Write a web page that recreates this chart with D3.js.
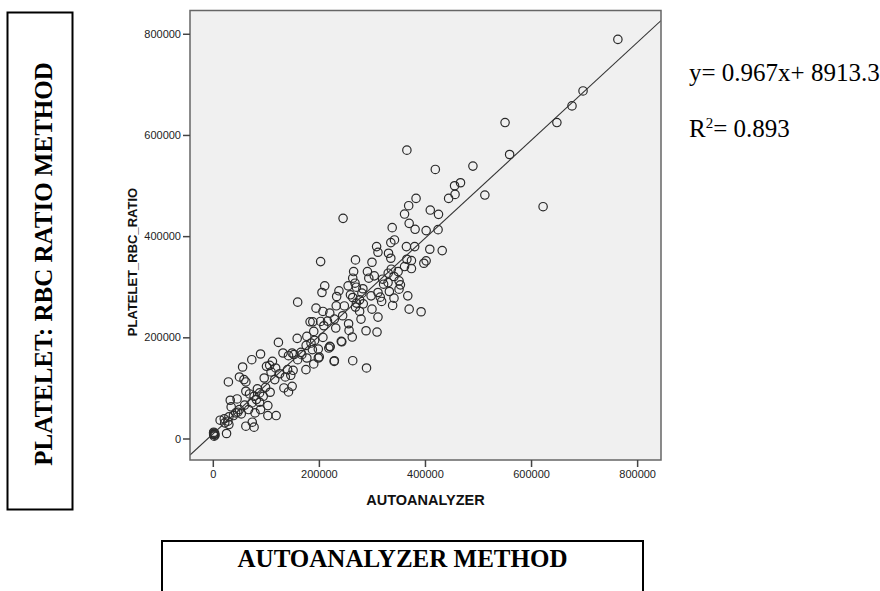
<!DOCTYPE html>
<html>
<head>
<meta charset="utf-8">
<script src="https://cdn.jsdelivr.net/npm/d3@7"></script>
<style>
  body { margin: 0; background: #fff; }
  svg { display: block; }
</style>
</head>
<body>
<svg id="chart" width="880" height="591"></svg>
<script>
// autoanalyzer count (x) and platelet:rbc ratio count (y)
var autoAnalyzer = [
  763700, 698000, 677200, 648700, 551000, 559600, 622700, 512900, 490400, 419500,
  365900, 467000, 455800, 456700, 444600, 383200, 369300, 361500, 410000, 425500,
  245600, 370200, 338200, 381400, 402200, 424700, 342500, 335600, 308800, 365000,
  380600, 409100, 432500, 311400, 331300, 335600, 269000, 203300, 300100, 365900,
  374500, 402200, 397900, 361500, 374500, 336500, 349400, 265500, 291500, 330700,
  304400, 320000, 341600, 351100, 330400, 353700, 351100, 294100, 263800, 268100,
  255100, 211000, 270700, 237800, 205800, 281100, 311400, 332900, 259500, 298400,
  315700, 367600, 233500, 263800, 276800, 318300, 341600, 270700, 283700, 160000,
  339000, 232700, 269000, 194600, 300100, 370200, 392700, 207600, 276800, 220500,
  244800, 279400, 311400, 229200, 203300, 183400, 188500, 216200, 256000, 209300,
  231800, 256900, 288900, 309600, 190300, 177300, 207600, 262900, 159100, 192000,
  242200, 185100, 123700, 220500, 218700, 198900, 187700, 166100, 132300, 149600,
  167800, 142700, 200700, 198900, 177300, 90000, 73500, 112400, 160000, 229200,
  263800, 190300, 175600, 289800, 107200, 101200, 56200, 118500, 141000, 151400,
  109800, 147000, 136700, 50200, 96900, 58800, 62300, 116800, 29400, 134100,
  149600, 99500, 142700, 108100, 62300, 88200, 69200, 77800, 95100, 45800,
  32900, 82200, 73500, 88200, 103800, 34600, 67500, 90000, 79600, 50200,
  43200, 53600, 38900, 103800, 119400, 30300, 21600, 13800, 28500, 22500,
  30300, 74400, 62300, 77800, 25900, 1700, 1700, 2600, 3500, 2000,
  4200, 1500, 3000, 228800, 221300, 243200, 126000, 84000, 47000, 60000,
  283000, 322000, 248000, 176000, 153000
];
var plateletRatio = [
  788900, 687000, 657400, 624500, 624500, 561400, 458200, 481200, 538400, 531800,
  570000, 505500, 499600, 482500, 474600, 474600, 460200, 443700, 451600, 443100,
  435200, 425300, 416800, 413500, 410900, 412800, 392500, 387200, 379300, 379300,
  379300, 374100, 371400, 368100, 366200, 356300, 353000, 349700, 348400, 354300,
  351700, 351100, 346400, 339900, 335900, 334600, 330000, 330000, 330000, 326700,
  321500, 314900, 320200, 311600, 308300, 303700, 295200, 316900, 316900, 307000,
  301700, 301700, 299100, 291900, 288600, 287300, 288600, 290600, 284000, 282000,
  279400, 282000, 280700, 278700, 274100, 270900, 277400, 267600, 266200, 269500,
  263000, 262300, 259700, 257700, 255700, 255700, 250500, 251100, 251100, 247800,
  242600, 236000, 240000, 236000, 231400, 230700, 230700, 232100, 226800, 222900,
  218300, 213700, 213000, 210400, 211700, 201800, 199800, 200500, 197900, 193900,
  192000, 188700, 190000, 182100, 178800, 176800, 175500, 170300, 169000, 169000,
  165700, 163700, 161100, 159100, 159100, 167000, 155800, 152500, 155800, 153800,
  153800, 147300, 136100, 139400, 144600, 142700, 141300, 139400, 136100, 134800,
  131500, 124900, 121600, 121600, 119600, 116400, 111800, 116400, 111800, 99900,
  103200, 101200, 92000, 91400, 93400, 90100, 88100, 83500, 83500, 78200,
  75600, 76900, 70300, 71700, 65100, 62500, 57200, 57200, 50600, 57200,
  50600, 48600, 45400, 45400, 45400, 42700, 38800, 36200, 34200, 30900,
  27600, 32200, 24300, 22400, 9900, 12500, 7900, 4600, 10500, 9000,
  6500, 11000, 8000, 152400, 181300, 191100, 128000, 98000, 52000, 66000,
  296000, 305000, 262000, 184000, 166000
];
var xTicks = [0, 200000, 400000, 600000, 800000];
var yTicks = [0, 200000, 400000, 600000, 800000];
var slope = 0.967, intercept = 8913.3;

var svg = d3.select("#chart");

// plot frame
var plotL = 190, plotR = 661, plotT = 10.5, plotB = 460;
var x = d3.scaleLinear().domain([-43000, 845000]).range([plotL, plotR]);
var y = d3.scaleLinear().domain([-42500, 846000]).range([plotB, plotT]);

svg.append("defs").append("clipPath").attr("id", "plotclip")
  .append("rect")
  .attr("x", plotL).attr("y", plotT)
  .attr("width", plotR - plotL).attr("height", plotB - plotT);

svg.append("rect")
  .attr("x", plotL).attr("y", plotT)
  .attr("width", plotR - plotL).attr("height", plotB - plotT)
  .attr("fill", "#f0f0f0");

// points
svg.append("g").attr("clip-path", "url(#plotclip)")
  .selectAll("circle")
  .data(autoAnalyzer.map(function(d, i) { return [d, plateletRatio[i]]; }))
  .enter().append("circle")
  .attr("cx", function(d) { return x(d[0]); })
  .attr("cy", function(d) { return y(d[1]); })
  .attr("r", 4.2)
  .attr("fill", "none")
  .attr("stroke", "#2a2a2a")
  .attr("stroke-width", 1.2);

// fit line
var xd = x.domain();
svg.append("line")
  .attr("clip-path", "url(#plotclip)")
  .attr("x1", x(xd[0])).attr("y1", y(slope * xd[0] + intercept))
  .attr("x2", x(xd[1])).attr("y2", y(slope * xd[1] + intercept))
  .attr("stroke", "#333").attr("stroke-width", 1.1);

svg.append("rect")
  .attr("x", plotL).attr("y", plotT)
  .attr("width", plotR - plotL).attr("height", plotB - plotT)
  .attr("fill", "none").attr("stroke", "#666").attr("stroke-width", 1.5);

// axes
var fmt = d3.format("d");
var xAxis = svg.append("g").attr("transform", "translate(0," + plotB + ")")
  .call(d3.axisBottom(x).tickValues(xTicks).tickFormat(fmt).tickSize(7).tickPadding(3));
var yAxis = svg.append("g").attr("transform", "translate(" + plotL + ",0)")
  .call(d3.axisLeft(y).tickValues(yTicks).tickFormat(fmt).tickSize(7).tickPadding(2));
[xAxis, yAxis].forEach(function(g) {
  g.select(".domain").remove();
  g.selectAll(".tick line").attr("stroke", "#444").attr("stroke-width", 1.5);
  g.selectAll(".tick text").attr("fill", "#222")
    .style("font-family", "'Liberation Sans', Arial, sans-serif").style("font-size", "11px");
});

svg.append("text")
  .attr("x", (plotL + plotR) / 2).attr("y", 505)
  .attr("text-anchor", "middle")
  .style("font-family", "'Liberation Sans', Arial, sans-serif")
  .style("font-size", "14.5px").style("font-weight", "bold").attr("fill", "#111")
  .text("AUTOANALYZER");

svg.append("text")
  .attr("transform", "translate(137,262) rotate(-90)")
  .attr("text-anchor", "middle")
  .style("font-family", "'Liberation Sans', Arial, sans-serif")
  .style("font-size", "13px").style("font-weight", "bold").attr("fill", "#111")
  .text("PLATELET_RBC_RATIO");

// equation
var serif = "'Liberation Serif', 'Times New Roman', serif";
svg.append("text").attr("x", 689).attr("y", 81)
  .style("font-family", serif).style("font-size", "25px").attr("fill", "#000")
  .text("y= 0.967x+ 8913.3");
var r2 = svg.append("text").attr("x", 689).attr("y", 137)
  .style("font-family", serif).style("font-size", "25px").attr("fill", "#000");
r2.append("tspan").text("R");
r2.append("tspan").attr("dy", -9).style("font-size", "15px").text("2");
r2.append("tspan").attr("dy", 9).text("= 0.893");

// boxed method titles
svg.append("rect").attr("x", 7.5).attr("y", 12.5).attr("width", 65).attr("height", 497)
  .attr("fill", "none").attr("stroke", "#000").attr("stroke-width", 2);
svg.append("text")
  .attr("transform", "translate(52,264) rotate(-90)")
  .attr("text-anchor", "middle")
  .style("font-family", serif).style("font-size", "25px").style("font-weight", "bold")
  .text("PLATELET: RBC RATIO METHOD");

svg.append("rect").attr("x", 162).attr("y", 541).attr("width", 481).attr("height", 80)
  .attr("fill", "none").attr("stroke", "#000").attr("stroke-width", 2);
svg.append("text")
  .attr("x", 402.5).attr("y", 567)
  .attr("text-anchor", "middle")
  .style("font-family", serif).style("font-size", "25px").style("font-weight", "bold")
  .text("AUTOANALYZER METHOD");
</script>
</body>
</html>
